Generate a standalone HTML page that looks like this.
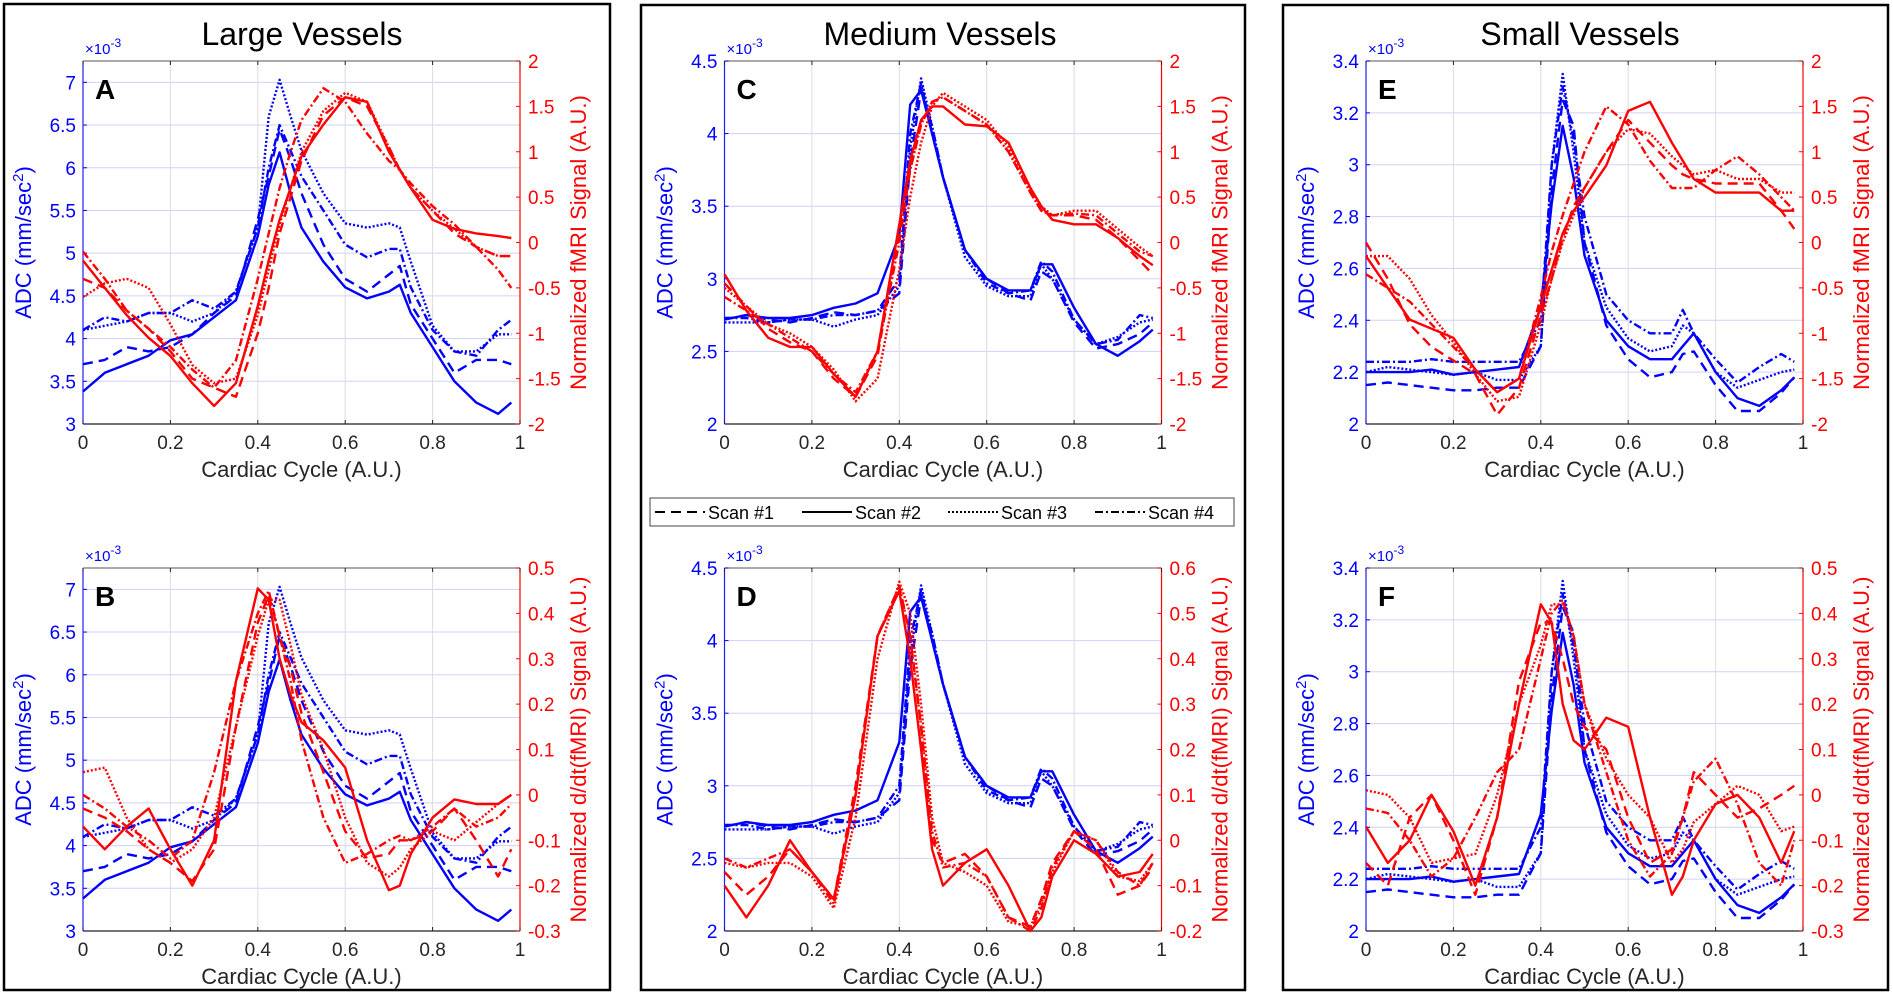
<!DOCTYPE html>
<html><head><meta charset="utf-8">
<style>
html,body{margin:0;padding:0;background:#fff;}
svg{display:block;font-family:"Liberation Sans",sans-serif;}
</style></head>
<body>
<svg id="fig" width="1893" height="995" viewBox="0 0 1893 995" xmlns="http://www.w3.org/2000/svg">
<rect x="0" y="0" width="1893" height="995" fill="#fff"/>
<rect x="4" y="4" width="606" height="986" fill="none" stroke="#000" stroke-width="2.5"/>
<rect x="641" y="5" width="604" height="985" fill="none" stroke="#000" stroke-width="2.5"/>
<rect x="1283" y="5" width="605" height="985" fill="none" stroke="#000" stroke-width="2.5"/>
<text x="302" y="45" font-size="32" text-anchor="middle">Large Vessels</text>
<text x="940" y="45" font-size="32" text-anchor="middle">Medium Vessels</text>
<text x="1580" y="45" font-size="32" text-anchor="middle">Small Vessels</text>
<g>
<rect x="650" y="498" width="584" height="28" fill="#fff" stroke="#444" stroke-width="1"/>
<line x1="655" y1="512" x2="705" y2="512" stroke="#000" stroke-width="2" stroke-dasharray="10,6"/>
<text x="708" y="519" font-size="18">Scan #1</text>
<line x1="802" y1="512" x2="852" y2="512" stroke="#000" stroke-width="2"/>
<text x="855" y="519" font-size="18">Scan #2</text>
<line x1="948" y1="512" x2="998" y2="512" stroke="#000" stroke-width="2" stroke-dasharray="2,2"/>
<text x="1001" y="519" font-size="18">Scan #3</text>
<line x1="1095" y1="512" x2="1145" y2="512" stroke="#000" stroke-width="2" stroke-dasharray="8,3,2,3"/>
<text x="1148" y="519" font-size="18">Scan #4</text>
</g>
<g id="plots"></g>
</svg>
<script>
const xs = [0,.05,.1,.15,.2,.25,.3,.35,.4,.425,.45,.475,.5,.55,.6,.65,.7,.725,.75,.8,.85,.9,.95,.98];
const xTicks = [0,0.2,0.4,0.6,0.8,1];
const xTickLabels = ['0','0.2','0.4','0.6','0.8','1'];

const adcL1 = [3.7,3.75,3.9,3.85,3.9,4.05,4.3,4.5,5.4,5.9,6.45,6.1,5.7,5.1,4.7,4.55,4.75,4.85,4.4,4.0,3.6,3.75,3.75,3.7];
const adcL2 = [3.38,3.6,3.7,3.8,3.98,4.05,4.25,4.45,5.2,5.8,6.18,5.7,5.3,4.9,4.6,4.47,4.55,4.63,4.3,3.9,3.5,3.25,3.12,3.25];
const adcL3 = [4.1,4.15,4.2,4.3,4.3,4.2,4.3,4.55,5.3,6.6,7.03,6.6,6.2,5.7,5.35,5.3,5.35,5.3,4.9,4.15,3.85,3.85,4.05,4.05];
const adcL4 = [4.1,4.25,4.2,4.3,4.3,4.45,4.35,4.55,5.3,6.0,6.5,6.2,5.9,5.5,5.1,4.95,5.05,5.05,4.6,4.1,3.85,3.8,4.1,4.22];
const fmriL1 = [-0.4,-0.5,-0.75,-0.95,-1.2,-1.5,-1.6,-1.7,-1.0,-0.5,0.1,0.5,0.9,1.4,1.6,1.5,1.05,0.8,0.6,0.35,0.1,-0.05,-0.15,-0.15];
const fmriL2 = [-0.2,-0.5,-0.8,-1.05,-1.25,-1.55,-1.8,-1.55,-0.7,-0.2,0.25,0.6,0.95,1.3,1.6,1.55,1.0,0.8,0.6,0.25,0.15,0.1,0.07,0.05];
const fmriL3 = [-0.6,-0.45,-0.4,-0.5,-0.9,-1.35,-1.55,-1.5,-0.8,-0.3,0.2,0.6,1.0,1.45,1.65,1.55,1.05,0.8,0.6,0.35,0.15,-0.05,-0.15,-0.15];
const fmriL4 = [-0.1,-0.4,-0.75,-0.95,-1.15,-1.4,-1.6,-1.3,-0.4,0.1,0.6,1.0,1.35,1.7,1.55,1.2,0.9,0.8,0.65,0.4,0.2,-0.05,-0.3,-0.5];
const derL1 = [-0.03,-0.05,-0.08,-0.12,-0.15,-0.19,-0.12,0.15,0.38,0.44,0.35,0.28,0.18,0.05,-0.08,-0.14,-0.13,-0.1,-0.1,-0.08,-0.03,-0.1,-0.18,-0.12];
const derL2 = [-0.07,-0.12,-0.07,-0.03,-0.12,-0.2,-0.1,0.25,0.455,0.43,0.3,0.22,0.16,0.12,0.06,-0.1,-0.21,-0.2,-0.13,-0.05,-0.01,-0.02,-0.02,0.0];
const derL3 = [0.05,0.06,-0.05,-0.12,-0.15,-0.12,-0.05,0.15,0.35,0.43,0.43,0.33,0.22,0.1,-0.05,-0.15,-0.18,-0.16,-0.12,-0.08,-0.1,-0.06,-0.02,0.0];
const derL4 = [0.0,-0.03,-0.07,-0.1,-0.14,-0.1,0.05,0.25,0.4,0.45,0.35,0.25,0.12,-0.05,-0.15,-0.13,-0.1,-0.09,-0.1,-0.07,-0.03,-0.07,-0.05,-0.02];

const adcM1 = [2.72,2.75,2.72,2.7,2.73,2.77,2.75,2.78,2.9,3.8,4.3,4.05,3.7,3.2,3.0,2.9,2.85,3.05,3.0,2.7,2.52,2.55,2.62,2.7];
const adcM2 = [2.72,2.75,2.73,2.73,2.75,2.8,2.83,2.9,3.3,4.2,4.3,4.0,3.7,3.2,3.0,2.92,2.92,3.1,3.1,2.8,2.55,2.47,2.57,2.65];
const adcM3 = [2.7,2.7,2.7,2.72,2.72,2.67,2.72,2.75,2.95,3.9,4.38,4.05,3.7,3.15,2.95,2.88,2.88,3.1,3.0,2.72,2.55,2.6,2.7,2.72];
const adcM4 = [2.73,2.73,2.7,2.72,2.72,2.75,2.75,2.78,3.0,4.0,4.35,4.0,3.7,3.2,2.97,2.9,2.92,3.12,3.05,2.72,2.55,2.58,2.75,2.73];
const fmriM1 = [-0.45,-0.7,-0.95,-1.1,-1.2,-1.5,-1.7,-1.25,0.1,0.8,1.3,1.55,1.6,1.45,1.3,1.0,0.55,0.35,0.3,0.3,0.25,0.05,-0.2,-0.35];
const fmriM2 = [-0.35,-0.75,-1.05,-1.15,-1.15,-1.45,-1.7,-1.2,0.2,0.9,1.35,1.5,1.5,1.3,1.28,1.1,0.6,0.4,0.25,0.2,0.2,0.05,-0.15,-0.25];
const fmriM3 = [-0.5,-0.7,-0.9,-1.0,-1.15,-1.4,-1.75,-1.5,-0.3,0.5,1.1,1.5,1.65,1.5,1.35,1.05,0.6,0.4,0.3,0.35,0.35,0.15,-0.05,-0.15];
const fmriM4 = [-0.6,-0.75,-0.9,-1.05,-1.2,-1.45,-1.65,-1.2,0.0,0.8,1.3,1.55,1.6,1.45,1.3,1.0,0.55,0.35,0.3,0.32,0.3,0.1,-0.1,-0.15];
const derM1 = [-0.07,-0.12,-0.08,-0.02,-0.07,-0.13,0.12,0.45,0.56,0.45,0.25,0.0,-0.05,-0.03,-0.08,-0.17,-0.19,-0.13,-0.05,0.02,-0.02,-0.12,-0.1,-0.06];
const derM2 = [-0.1,-0.17,-0.1,0.0,-0.07,-0.13,0.1,0.45,0.55,0.4,0.2,-0.02,-0.1,-0.05,-0.02,-0.1,-0.2,-0.17,-0.08,0.0,-0.03,-0.08,-0.07,-0.03];
const derM3 = [-0.05,-0.06,-0.05,-0.05,-0.08,-0.15,0.05,0.4,0.57,0.5,0.3,0.05,-0.05,-0.07,-0.1,-0.18,-0.19,-0.14,-0.07,0.02,0.0,-0.08,-0.09,-0.05];
const derM4 = [-0.04,-0.06,-0.04,-0.02,-0.07,-0.14,0.1,0.45,0.56,0.45,0.25,0.02,-0.06,-0.05,-0.08,-0.17,-0.2,-0.15,-0.06,0.02,0.0,-0.07,-0.1,-0.05];

const adcS1 = [2.15,2.16,2.15,2.14,2.13,2.13,2.14,2.14,2.3,2.9,3.25,3.15,2.7,2.38,2.25,2.18,2.2,2.27,2.28,2.15,2.05,2.05,2.12,2.18];
const adcS2 = [2.2,2.2,2.2,2.21,2.19,2.2,2.21,2.22,2.45,2.85,3.15,2.95,2.65,2.4,2.3,2.25,2.25,2.3,2.35,2.2,2.1,2.07,2.13,2.18];
const adcS3 = [2.2,2.22,2.21,2.2,2.19,2.2,2.17,2.17,2.3,3.0,3.35,3.05,2.7,2.45,2.33,2.28,2.3,2.38,2.35,2.2,2.14,2.17,2.2,2.21];
const adcS4 = [2.24,2.24,2.24,2.25,2.24,2.24,2.24,2.24,2.4,3.0,3.3,3.1,2.8,2.5,2.4,2.35,2.35,2.44,2.35,2.25,2.16,2.22,2.27,2.24];
const fmriS1 = [0.0,-0.4,-0.9,-1.15,-1.3,-1.45,-1.9,-1.6,-0.8,-0.4,0.05,0.4,0.6,1.0,1.35,1.1,0.85,0.75,0.7,0.65,0.65,0.65,0.35,0.15];
const fmriS2 = [-0.15,-0.5,-0.85,-0.95,-1.05,-1.4,-1.65,-1.5,-0.7,-0.3,0.1,0.35,0.5,0.85,1.45,1.55,1.1,0.9,0.7,0.55,0.55,0.55,0.35,0.35];
const fmriS3 = [-0.15,-0.15,-0.4,-0.8,-1.1,-1.45,-1.75,-1.7,-0.9,-0.4,0.0,0.3,0.6,1.0,1.25,1.2,0.95,0.85,0.75,0.8,0.7,0.7,0.55,0.55];
const fmriS4 = [-0.35,-0.5,-0.65,-0.9,-1.15,-1.4,-1.65,-1.5,-0.6,-0.1,0.3,0.65,1.0,1.5,1.3,0.9,0.6,0.6,0.6,0.8,0.95,0.75,0.5,0.35];
const derS1 = [-0.15,-0.2,-0.05,0.0,-0.1,-0.22,-0.05,0.25,0.38,0.38,0.3,0.2,0.15,0.1,-0.05,-0.15,-0.12,-0.05,0.05,0.0,-0.05,-0.03,0.0,0.02];
const derS2 = [-0.07,-0.15,-0.1,0.0,-0.08,-0.2,-0.05,0.2,0.42,0.38,0.2,0.12,0.1,0.17,0.15,-0.05,-0.22,-0.18,-0.1,-0.02,0.0,-0.05,-0.15,-0.08];
const derS3 = [0.01,0.0,-0.05,-0.15,-0.14,-0.13,0.0,0.2,0.33,0.42,0.42,0.35,0.2,0.08,0.0,-0.05,-0.15,-0.12,-0.06,-0.02,0.02,0.0,-0.08,-0.07];
const derS4 = [-0.03,-0.04,-0.1,-0.18,-0.14,-0.05,0.05,0.1,0.3,0.4,0.43,0.35,0.2,0.05,-0.1,-0.18,-0.13,-0.05,0.03,0.08,-0.02,-0.15,-0.2,-0.1];

const leftTicksL = [3,3.5,4,4.5,5,5.5,6,6.5,7];
const leftTicksM = [2,2.5,3,3.5,4,4.5];
const leftTicksS = [2,2.2,2.4,2.6,2.8,3,3.2,3.4];
const rightTicksF = [-2,-1.5,-1,-0.5,0,0.5,1,1.5,2];
const rightTicksD5 = [-0.3,-0.2,-0.1,0,0.1,0.2,0.3,0.4,0.5];
const rightTicksD6 = [-0.2,-0.1,0,0.1,0.2,0.3,0.4,0.5,0.6];

const dashes = ['10,6', null, '2,2', '8,3,2,3'];
const NS = 'http://www.w3.org/2000/svg';
const root = document.getElementById('plots');
function mk(tag, attrs, parent){ const e=document.createElementNS(NS,tag); for(const k in attrs) e.setAttribute(k,attrs[k]); (parent||root).appendChild(e); return e; }

const panels = [
 {id:'a',letter:'A',x0:83,y0:61,lmin:3,lmax:7.25,lt:leftTicksL,rmin:-2,rmax:2,rt:rightTicksF,adc:[adcL1,adcL2,adcL3,adcL4],red:[fmriL1,fmriL2,fmriL3,fmriL4],rlab:'Normalized fMRI Signal (A.U.)'},
 {id:'b',letter:'B',x0:83,y0:568,lmin:3,lmax:7.25,lt:leftTicksL,rmin:-0.3,rmax:0.5,rt:rightTicksD5,adc:[adcL1,adcL2,adcL3,adcL4],red:[derL1,derL2,derL3,derL4],rlab:'Normalized d/dt(fMRI) Signal (A.U.)'},
 {id:'c',letter:'C',x0:724.5,y0:61,lmin:2,lmax:4.5,lt:leftTicksM,rmin:-2,rmax:2,rt:rightTicksF,adc:[adcM1,adcM2,adcM3,adcM4],red:[fmriM1,fmriM2,fmriM3,fmriM4],rlab:'Normalized fMRI Signal (A.U.)'},
 {id:'d',letter:'D',x0:724.5,y0:568,lmin:2,lmax:4.5,lt:leftTicksM,rmin:-0.2,rmax:0.6,rt:rightTicksD6,adc:[adcM1,adcM2,adcM3,adcM4],red:[derM1,derM2,derM3,derM4],rlab:'Normalized d/dt(fMRI) Signal (A.U.)'},
 {id:'e',letter:'E',x0:1366,y0:61,lmin:2,lmax:3.4,lt:leftTicksS,rmin:-2,rmax:2,rt:rightTicksF,adc:[adcS1,adcS2,adcS3,adcS4],red:[fmriS1,fmriS2,fmriS3,fmriS4],rlab:'Normalized fMRI Signal (A.U.)'},
 {id:'f',letter:'F',x0:1366,y0:568,lmin:2,lmax:3.4,lt:leftTicksS,rmin:-0.3,rmax:0.5,rt:rightTicksD5,adc:[adcS1,adcS2,adcS3,adcS4],red:[derS1,derS2,derS3,derS4],rlab:'Normalized d/dt(fMRI) Signal (A.U.)'}
];
const W=437, H=363;

panels.forEach(p=>{
  const g = mk('g',{});
  
  
  const xS = v => p.x0 + v*W;
  const yL = v => p.y0 + H - (v-p.lmin)/(p.lmax-p.lmin)*H;
  const yR = v => p.y0 + H - (v-p.rmin)/(p.rmax-p.rmin)*H;
  p.lt.forEach(t=>{ mk('line',{x1:p.x0,x2:p.x0+W,y1:yL(t),y2:yL(t),stroke:'#d0d0f8','stroke-width':1},g); });
  xTicks.forEach(t=>{ if(t>0&&t<1) mk('line',{x1:xS(t),x2:xS(t),y1:p.y0,y2:p.y0+H,stroke:'#dcdcdc','stroke-width':1},g); });
  mk('line',{x1:p.x0,x2:p.x0+W,y1:p.y0,y2:p.y0,stroke:'#777','stroke-width':1.2},g);
  mk('line',{x1:p.x0,x2:p.x0+W,y1:p.y0+H,y2:p.y0+H,stroke:'#222','stroke-width':1.2},g);
  mk('line',{x1:p.x0,x2:p.x0,y1:p.y0,y2:p.y0+H,stroke:'#2020ff','stroke-width':1.2},g);
  mk('line',{x1:p.x0+W,x2:p.x0+W,y1:p.y0,y2:p.y0+H,stroke:'#ff0000','stroke-width':1.2},g);
  xTicks.forEach((t,i)=>{
    mk('line',{x1:xS(t),x2:xS(t),y1:p.y0+H,y2:p.y0+H-4,stroke:'#222'},g);
    mk('line',{x1:xS(t),x2:xS(t),y1:p.y0,y2:p.y0+4,stroke:'#222'},g);
    const tx = mk('text',{x:xS(t),y:p.y0+H+25,'font-size':19,'text-anchor':'middle',fill:'#262626'},g);
    tx.textContent = xTickLabels[i];
  });
  p.lt.forEach(t=>{
    mk('line',{x1:p.x0,x2:p.x0+4,y1:yL(t),y2:yL(t),stroke:'#0000ff'},g);
    const tx = mk('text',{x:p.x0-7,y:yL(t)+7,'font-size':19,'text-anchor':'end',fill:'#0000ff'},g);
    tx.textContent = String(t);
  });
  p.rt.forEach(t=>{
    mk('line',{x1:p.x0+W,x2:p.x0+W-4,y1:yR(t),y2:yR(t),stroke:'#ff0000'},g);
    const tx = mk('text',{x:p.x0+W+8,y:yR(t)+7,'font-size':19,'text-anchor':'start',fill:'#ff0000'},g);
    tx.textContent = String(t);
  });
  const ex = mk('text',{x:p.x0+2,y:p.y0-7,'font-size':15,fill:'#0000ff'},g);
  
  
  ex.innerHTML = '\u00d710<tspan dy="-7" font-size="12">-3</tspan>';
  const xl = mk('text',{x:p.x0+W/2,y:p.y0+H+53,'font-size':22,'text-anchor':'middle',fill:'#262626'},g);
  
  
  xl.textContent = 'Cardiac Cycle (A.U.)';
  const yl = mk('text',{x:0,y:0,'font-size':22,'text-anchor':'middle',fill:'#0000ff',transform:`translate(${p.x0-52},${p.y0+H/2}) rotate(-90)`},g);
  
  
  yl.innerHTML = 'ADC (mm/sec<tspan dy="-8" font-size="15">2</tspan><tspan dy="8">)</tspan>';
  const yr = mk('text',{x:0,y:0,'font-size':22,'text-anchor':'middle',fill:'#ff0000',transform:`translate(${p.x0+W+66},${p.y0+H/2}) rotate(-90)`},g);
  
  
  yr.textContent = p.rlab;
  const lt = mk('text',{x:p.x0+12,y:p.y0+38,'font-size':28,'font-weight':'bold',fill:'#000'},g);
  
  
  lt.textContent = p.letter;
  p.adc.forEach((arr,i)=>{
    const d = arr.map((v,j)=>(j?'L':'M')+xS(xs[j]).toFixed(1)+','+yL(v).toFixed(1)).join('');
    const pa = mk('path',{d:d,fill:'none',stroke:'#0000ff','stroke-width':2.4,'stroke-linejoin':'round'},g);
    if(dashes[i]) pa.setAttribute('stroke-dasharray',dashes[i]);
    
    
  });
  p.red.forEach((arr,i)=>{
    const d = arr.map((v,j)=>(j?'L':'M')+xS(xs[j]).toFixed(1)+','+yR(v).toFixed(1)).join('');
    const pa = mk('path',{d:d,fill:'none',stroke:'#ff0000','stroke-width':2.4,'stroke-linejoin':'round'},g);
    if(dashes[i]) pa.setAttribute('stroke-dasharray',dashes[i]);
    
    
  });
});
</script>
</body></html>
